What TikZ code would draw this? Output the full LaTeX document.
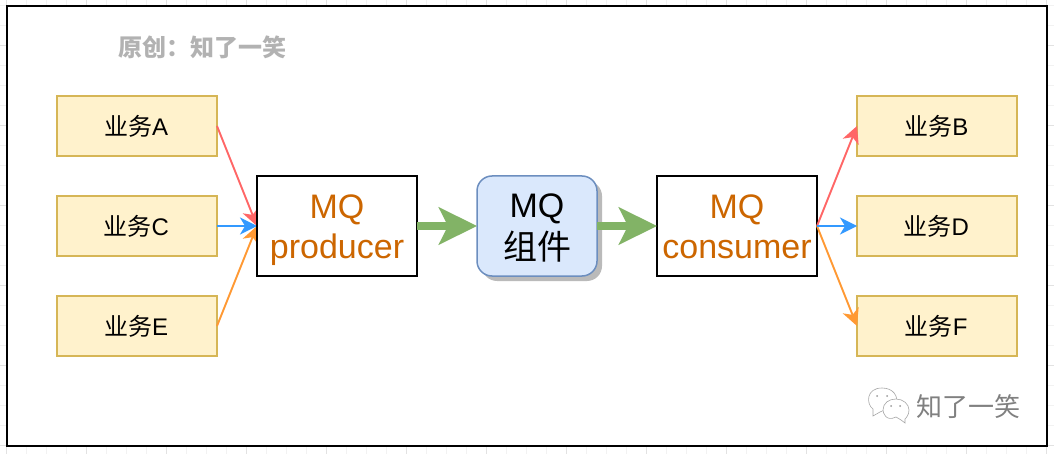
\documentclass[tikz,border=0pt]{standalone}
\usepackage{fontspec}
\setmainfont{Liberation Sans}
\newfontfamily\cjk{Noto Sans CJK SC}
\usetikzlibrary{arrows.meta}
\definecolor{gridmaj}{HTML}{E2E2E2}
\definecolor{gridmin}{HTML}{F2F2F2}
\definecolor{bizfill}{HTML}{FFF2CC}
\definecolor{bizline}{HTML}{D6B656}
\definecolor{mqfill}{HTML}{DAE8FC}
\definecolor{mqline}{HTML}{6C8EBF}
\definecolor{arrgreen}{HTML}{82B366}
\definecolor{arrred}{HTML}{FF6666}
\definecolor{arrblue}{HTML}{3399FF}
\definecolor{arrorange}{HTML}{FF9933}
\definecolor{mqtext}{HTML}{CC6600}
\newcommand{\biztext}[1]{\kern-1.5pt{\cjk 业务}#1}
\tikzset{
  biz/.style={draw=bizline,fill=bizfill,line width=1.5pt,minimum width=160pt,minimum height=60pt,inner sep=0pt,outer sep=0pt,font=\fontsize{24}{28}\selectfont},
  mqbox/.style={draw=black,fill=white,line width=2pt,minimum width=160pt,minimum height=100pt,inner sep=0pt,outer sep=0pt},
  mqlabel/.style={inner sep=0pt,align=center,font=\fontsize{34}{40}\selectfont},
  thin arr/.style={line width=1.9pt,-{Stealth[length=17pt,width=17pt,inset=5pt]}},
  fat arr/.style={line width=8pt,draw=arrgreen,-{Stealth[length=38pt,width=37pt,inset=9pt]}},
  bubble/.style={draw=black!35,fill=white,line width=0.6pt},
}
\begin{document}
\begin{tikzpicture}[x=1pt,y=-1pt]
\useasboundingbox (0,0) rectangle (1054,454);
\foreach \i in {0,...,52} \draw[gridmin,line width=0.7pt] ({6+20*\i},0) -- ({6+20*\i},454);
\foreach \i in {0,...,22} \draw[gridmin,line width=0.7pt] (0,{5+20*\i}) -- (1054,{5+20*\i});
\foreach \i in {0,...,13} \draw[gridmaj,line width=0.7pt] ({6+80*\i},0) -- ({6+80*\i},454);
\foreach \i in {0,...,5} \draw[gridmaj,line width=0.7pt] (0,{45+80*\i}) -- (1054,{45+80*\i});
\draw[black,fill=white,line width=2pt] (7,6) rectangle (1047,446);
\node[text=black!30,font=\fontsize{24}{28}\selectfont\cjk\bfseries,inner sep=0pt] (title) at (202,47) {原创：知了一笑};
\node[biz] (a) at (137,126) {\biztext{A}};
\node[biz] (c) at (137,226) {\biztext{C}};
\node[biz] (e) at (137,326) {\biztext{E}};
\node[biz] (b) at (937,126) {\biztext{B}};
\node[biz] (d) at (937,226) {\biztext{D}};
\node[biz] (f) at (937,326) {\biztext{F}};
\node[mqbox] (prod) at (337,226) {};
\draw[thin arr,draw=arrred,arrred] (a.east) -- (prod.west);
\draw[thin arr,draw=arrblue,arrblue] (c.east) -- (prod.west);
\draw[thin arr,draw=arrorange,arrorange] (e.east) -- (prod.west);
\draw[black,fill=white,line width=2pt] (prod.south west) rectangle (prod.north east);
\node[mqlabel,text=mqtext] (prodl) at (337,230.5) {\strut MQ\\\strut producer};
\node[mqbox] (cons) at (737,226) {};
\node[mqlabel,text=mqtext] (consl) at (737,230.5) {\strut MQ\\\strut consumer};
\fill[black!27,rounded corners=15pt] (482,181) rectangle (602,281);
\node[draw=mqline,fill=mqfill,line width=1.5pt,rounded corners=15pt,minimum width=120pt,minimum height=100pt,inner sep=0pt,outer sep=0pt] (mq) at (537,226) {};
\node[mqlabel] (mql) at (537,230.5) {\strut MQ\\\strut{\cjk 组件}};
\draw[thin arr,draw=arrred,arrred] (cons.east) -- (b.west);
\draw[thin arr,draw=arrorange,arrorange] (cons.east) -- (f.west);
\draw[thin arr,draw=arrblue,arrblue] (cons.east) -- (d.west);
\draw[fat arr] (prod.east) -- (mq.west);
\draw[fat arr] (mq.east) -- (cons.west);
% WeChat mark
\draw[bubble] (873,409) .. controls (866,404) and (866,388) .. (882,388) .. controls (893,388) and (899,396) .. (896,405) -- (880,412) -- (873,416) -- cycle;
\draw[bubble] (896,417) .. controls (886,422) and (883,413) .. (883,410) .. controls (883,403) and (889,399) .. (896,399) .. controls (903,399) and (909,404) .. (909,410) .. controls (909,415) and (906,418) .. (905,419) -- (905,423) -- (901,420) -- cycle;
\foreach \p in {(877,396),(887,396),(891,406),(900,406)} \fill[black!40] \p circle (1pt);
\node[text=black!50,font=\fontsize{26}{30}\selectfont\cjk,inner sep=0pt] (mark) at (968,407) {知了一笑};
\end{tikzpicture}
\end{document}
